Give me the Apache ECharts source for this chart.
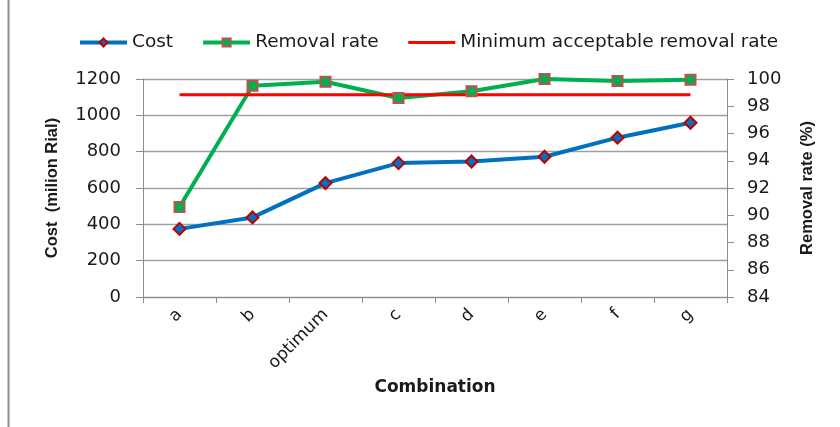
<!DOCTYPE html>
<html>
<head>
<meta charset="utf-8">
<script src="https://cdn.jsdelivr.net/npm/echarts@6/dist/echarts.min.js"></script>
<style>
  html, body { margin: 0; padding: 0; background: #fff; }
  #chart { width: 840px; height: 427px; }
</style>
</head>
<body>
<div id="chart"></div>
<script>
// Combinations compared
const categories = ['a', 'b', 'optimum', 'c', 'd', 'e', 'f', 'g'];
// Cost in million Rial
const costValues = [375, 438, 627, 737, 746, 772, 877, 959];
// Removal rate in %
const removalRate = [90.6, 99.5, 99.8, 98.6, 99.1, 100, 99.85, 99.95];
// Minimum acceptable removal rate (%)
const minimumRate = [98.85, 98.85, 98.85, 98.85, 98.85, 98.85, 98.85, 98.85];

const costTicks = { min: 0, max: 1200, interval: 200 };
const rateTicks = { min: 84, max: 100, interval: 2 };

const wideFont = '"DejaVu Sans", sans-serif';
const nameFont = '"Liberation Sans", Arial, sans-serif';
const axisGrey = '#8c8c8c';
const textColor = '#1a1a1a';

const chart = echarts.init(document.getElementById('chart'));
chart.setOption({
  animation: false,
  textStyle: { fontFamily: wideFont },
  graphic: [{
    type: 'line',
    shape: { x1: 8.5, y1: 0, x2: 8.5, y2: 427 },
    style: { stroke: '#8c8c8c', lineWidth: 2 }
  }],
  legend: {
    top: 28,
    left: 73,
    itemGap: 28,
    itemWidth: 47,
    itemHeight: 10,
    textStyle: { fontFamily: wideFont, fontSize: 18.5, color: textColor },
    data: [
      { name: 'Cost', lineStyle: { width: 4 } },
      { name: 'Removal rate', lineStyle: { width: 4 } },
      { name: 'Minimum acceptable removal rate', lineStyle: { width: 3 }, itemStyle: { opacity: 0 } }
    ]
  },
  grid: { left: 143, right: 113, top: 79, bottom: 130, containLabel: false },
  xAxis: {
    type: 'category',
    data: categories,
    boundaryGap: true,
    name: 'Combination',
    nameLocation: 'middle',
    nameGap: 74,
    nameTextStyle: { fontFamily: wideFont, fontSize: 17, fontWeight: 'bold', color: textColor },
    axisLine: { lineStyle: { color: axisGrey, width: 1 } },
    axisTick: { show: true, alignWithLabel: false, length: 6, lineStyle: { color: axisGrey } },
    axisLabel: { rotate: 45, fontSize: 17, color: textColor, margin: 15, interval: 0 }
  },
  yAxis: [{
    type: 'value',
    min: costTicks.min, max: costTicks.max, interval: costTicks.interval,
    name: 'Cost  (milion Rial)',
    nameLocation: 'middle',
    nameRotate: 90,
    nameGap: 82,
    nameTextStyle: { fontFamily: nameFont, fontSize: 16.5, fontWeight: 'bold', color: textColor },
    axisLine: { show: true, lineStyle: { color: axisGrey } },
    axisTick: { show: true, length: 7, lineStyle: { color: axisGrey } },
    axisLabel: { fontSize: 18, color: textColor, margin: 22, formatter: v => String(v) },
    splitLine: { show: true, lineStyle: { color: '#a0a0a0', width: 1.3 } }
  }, {
    type: 'value',
    position: 'right',
    min: rateTicks.min, max: rateTicks.max, interval: rateTicks.interval,
    name: 'Removal rate (%)',
    nameLocation: 'middle',
    nameRotate: 90,
    nameGap: 72,
    nameTextStyle: { fontFamily: nameFont, fontSize: 16.5, fontWeight: 'bold', color: textColor },
    axisLine: { show: true, lineStyle: { color: axisGrey } },
    axisTick: { show: true, length: 7, lineStyle: { color: axisGrey } },
    axisLabel: { fontSize: 18, color: textColor, margin: 20, formatter: v => String(v) },
    splitLine: { show: false }
  }],
  series: [{
    name: 'Cost',
    type: 'line',
    yAxisIndex: 0,
    data: costValues,
    symbol: 'diamond',
    symbolSize: 12,
    lineStyle: { color: '#0070C0', width: 4 },
    itemStyle: { color: '#0070C0', borderColor: '#C00000', borderWidth: 2 }
  }, {
    name: 'Removal rate',
    type: 'line',
    yAxisIndex: 1,
    data: removalRate,
    symbol: 'rect',
    symbolSize: 10,
    lineStyle: { color: '#00B050', width: 4 },
    itemStyle: { color: '#00B050', borderColor: '#C0504D', borderWidth: 2 }
  }, {
    name: 'Minimum acceptable removal rate',
    type: 'line',
    yAxisIndex: 1,
    data: minimumRate,
    symbol: 'none',
    showSymbol: false,
    lineStyle: { color: '#FF0000', width: 3 },
    itemStyle: { color: '#FF0000' }
  }]
});
</script>
</body>
</html>
